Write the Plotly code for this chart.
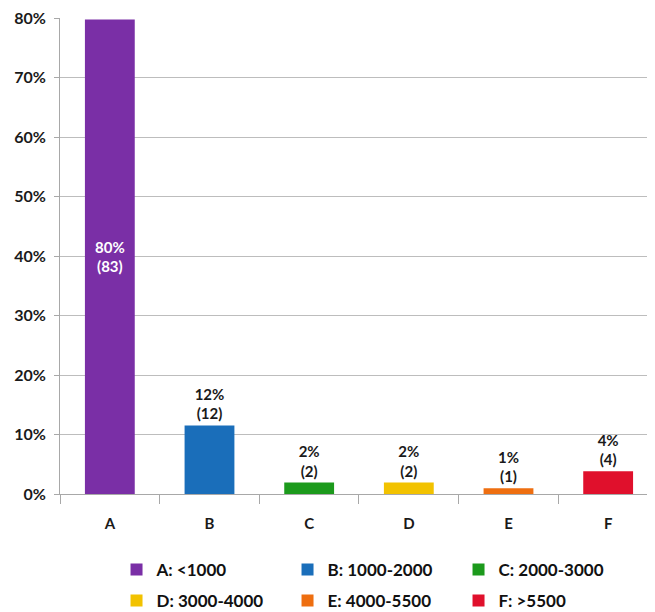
import plotly.graph_objects as go

categories = ["A", "B", "C", "D", "E", "F"]
legend_names = ["A: <1000", "B: 1000-2000", "C: 2000-3000", "D: 3000-4000", "E: 4000-5500", "F: >5500"]
counts = [83, 12, 2, 2, 1, 4]
colors = ["#7A2FA6", "#1A6EBA", "#1C9A1C", "#F2C200", "#EE6E10", "#E0102C"]
y_ticks = [0, 0.1, 0.2, 0.3, 0.4, 0.5, 0.6, 0.7, 0.8]
y_tick_labels = ["0%", "10%", "20%", "30%", "40%", "50%", "60%", "70%", "80%"]

total = sum(counts)
shares = [c / total for c in counts]

FONT = "Lato, Open Sans, sans-serif"

fig = go.Figure()
for i, cat in enumerate(categories):
    pct = round(shares[i] * 100)
    inside = i == 0
    fig.add_trace(go.Bar(
        x=[cat], y=[shares[i]], name=legend_names[i],
        legend="legend" if i < 3 else "legend2",
        marker=dict(color=colors[i], line=dict(width=0)),
        width=0.5,
        text=[f"{pct}%<br>({counts[i]})"],
        textposition="inside" if inside else "outside",
        insidetextanchor="middle",
        textfont=dict(family=FONT, size=15, weight="bold", color="white" if inside else "#1a1a1a"),
        cliponaxis=False,
    ))

legend_common = dict(
    orientation="h", xanchor="left", yanchor="top",
    entrywidth=126, entrywidthmode="pixels",
    font=dict(family=FONT, size=17, weight="bold", color="#111111"),
    itemsizing="constant", traceorder="normal",
    bgcolor="rgba(0,0,0,0)",
)

fig.update_layout(
    width=647, height=604,
    margin=dict(l=52, r=0, t=10, b=118, autoexpand=False),
    paper_bgcolor="white", plot_bgcolor="white",
    barmode="overlay",
    showlegend=True,
    legend=dict(legend_common, x=0.095, y=-0.122),
    legend2=dict(legend_common, x=0.095, y=-0.187),
    font=dict(family=FONT),
)
fig.update_yaxes(
    range=[0, 0.8005], tickmode="array", tickvals=y_ticks, ticktext=y_tick_labels,
    showgrid=True, gridcolor="#BDBDBD", gridwidth=1,
    showline=True, linecolor="#A8A8A8", linewidth=1,
    ticks="outside", ticklen=5, tickcolor="#A8A8A8",
    ticklabelstandoff=5, ticklabeloverflow="allow",
    tickfont=dict(family=FONT, size=16, weight="bold", color="#1a1a1a"),
    zeroline=False,
)
fig.update_xaxes(
    range=[-0.5, 5.47],
    showline=True, linecolor="#A8A8A8", linewidth=1,
    ticks="outside", ticklen=9, tickcolor="#A8A8A8", tickson="boundaries",
    ticklabelstandoff=16,
    tickfont=dict(family=FONT, size=15, weight="bold", color="#1a1a1a"),
    categoryorder="array", categoryarray=categories,
)

fig.write_html("out.html")
